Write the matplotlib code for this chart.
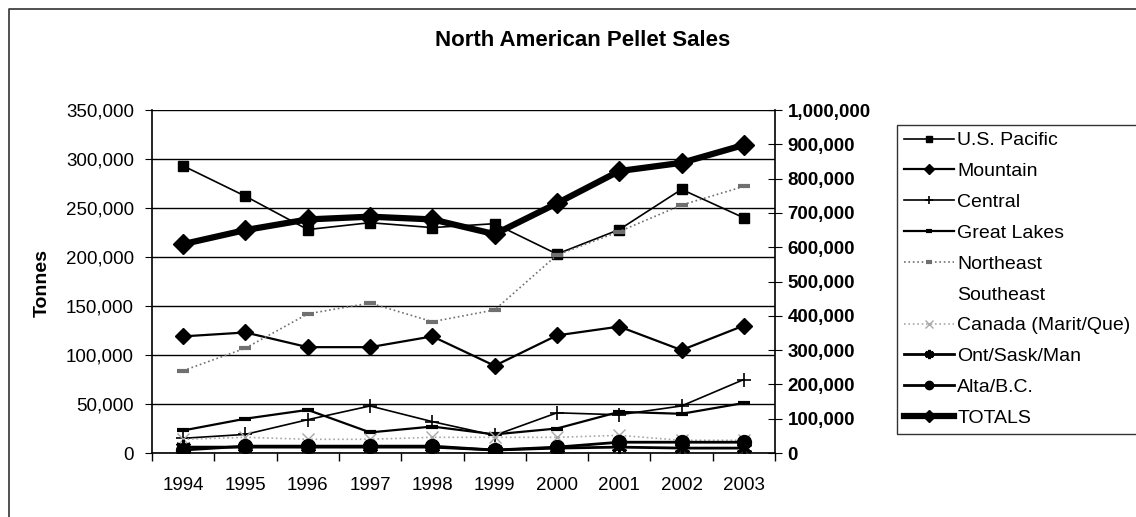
import numpy as np
import matplotlib
matplotlib.use('Agg')
import matplotlib.pyplot as plt
from matplotlib.lines import Line2D
from matplotlib.ticker import FuncFormatter, MultipleLocator

plt.rcParams['font.family'] = ['Liberation Sans', 'DejaVu Sans']

years = ['1994', '1995', '1996', '1997', '1998', '1999', '2000', '2001', '2002', '2003']
us_pacific = [293000, 262000, 228000, 235000, 230000, 234000, 203000, 228000, 269000, 240000]
mountain = [119000, 123000, 108000, 108000, 119000, 89000, 120000, 129000, 105000, 130000]
central = [15000, 19000, 34000, 48000, 32000, 18000, 41000, 39000, 48000, 75000]
great_lakes = [23000, 35000, 44000, 21000, 27000, 19000, 25000, 42000, 40000, 51000]
northeast = [84000, 107000, 142000, 153000, 134000, 146000, 202000, 226000, 253000, 272000]
southeast = [None] * 10
canada = [14000, 16000, 14000, 14000, 16000, 16000, 16000, 18000, 13000, 13000]
ont_sask_man = [6000, 6000, 6000, 6000, 6000, 3000, 5000, 6000, 5000, 5000]
alta_bc = [3000, 7000, 7000, 7000, 7000, 3000, 6000, 11000, 11000, 11000]
totals = [609000, 650000, 681000, 689000, 681000, 638000, 728000, 822000, 846000, 898000]

W, H = 1136, 517
fig = plt.figure(figsize=(W / 100, H / 100), dpi=100)
ax = fig.add_axes([152 / W, 1 - 453 / H, 623 / W, 343 / H])
ax2 = ax.twinx()

x = np.arange(len(years))
tick_fs = 13.5

def num(v):
    return np.array([np.nan if a is None else a for a in v], dtype=float)

# left axis series
ax.plot(x, num(us_pacific), '-', color='black', lw=1.2, marker='s', ms=7.5, label='U.S. Pacific')
ax.plot(x, num(mountain), '-', color='black', lw=1.6, marker='D', ms=8, label='Mountain')
ax.plot(x, num(central), '-', color='black', lw=1.2, marker='+', ms=10, mew=1.2, label='Central')
ax.plot(x, num(great_lakes), '-', color='black', lw=1.6, marker='_', ms=8, mew=3, label='Great Lakes')
ax.plot(x, num(northeast), ':', color='#707070', lw=1.2, marker='_', ms=8, mew=3, label='Northeast')
ax.plot(x, num(southeast), color='none', label='Southeast')
ax.plot(x, num(canada), ':', color='#a8a8a8', lw=1.2, marker='x', ms=9, mew=1.0, label='Canada (Marit/Que)')
ax.plot(x, num(ont_sask_man), '-', color='black', lw=2, marker=(6, 2, 0), ms=11, mew=2.2, label='Ont/Sask/Man')
ax.plot(x, num(alta_bc), '-', color='black', lw=2, marker='o', ms=10, label='Alta/B.C.')

# totals on right axis
ax2.plot(x, num(totals), '-', color='black', lw=4.5, marker='D', ms=10.5, label='TOTALS')

ax.set_xlim(-0.5, len(years) - 0.5)
ax.set_ylim(0, 350000)
ax2.set_ylim(0, 1000000)

ax.yaxis.set_major_locator(MultipleLocator(50000))
ax2.yaxis.set_major_locator(MultipleLocator(100000))
ax.yaxis.set_major_formatter(FuncFormatter(lambda v, p: f'{int(v):,}'))
ax2.yaxis.set_major_formatter(FuncFormatter(lambda v, p: f'{int(v):,}'))
ax.grid(axis='y', color='black', lw=1.0)
ax.set_axisbelow(True)

ax.set_xticks(x)
ax.set_xticklabels(years)
ax.set_xticks(np.arange(-0.5, len(years)), minor=True)
ax.tick_params(axis='x', which='major', length=0, pad=17, labelsize=tick_fs)
ax.tick_params(axis='x', which='minor', length=6, direction='out', width=1)
ax.tick_params(axis='y', length=5, direction='out', pad=8, labelsize=tick_fs)
ax2.tick_params(axis='y', length=10, direction='inout', pad=4, labelsize=tick_fs)
for lab in ax2.get_yticklabels():
    lab.set_fontweight('bold')

for a in (ax, ax2):
    a.spines['top'].set_visible(False)
ax2.spines['left'].set_visible(False)
ax2.spines['bottom'].set_visible(False)
for s in ('left', 'bottom'):
    ax.spines[s].set_linewidth(1.2)
ax2.spines['right'].set_linewidth(1.2)
ax.spines['right'].set_visible(False)

fig.text(583 / W, 1 - 40 / H, 'North American Pellet Sales', ha='center', va='center',
         fontsize=16, fontweight='bold')
fig.text(42 / W, 1 - 283 / H, 'Tonnes', ha='center', va='center', rotation=90,
         fontsize=14, fontweight='bold')

handles, labels = ax.get_legend_handles_labels()
h2, l2 = ax2.get_legend_handles_labels()
leg = fig.legend(handles + h2, labels + l2, loc='upper left',
                 bbox_to_anchor=(897 / W, 1 - 125 / H), fontsize=14, frameon=True,
                 fancybox=False, edgecolor='black', borderpad=0.35, labelspacing=0.68,
                 handlelength=2.6, handletextpad=0.15, borderaxespad=0, markerscale=0.6)
leg.get_frame().set_linewidth(1.0)

# chart area border (left and top edges visible)
fig.add_artist(Line2D([9 / W, 9 / W, 1.0], [0, 1 - 9 / H, 1 - 9 / H], color='#333333', lw=1.2))

fig.savefig('out.png', dpi=100)
